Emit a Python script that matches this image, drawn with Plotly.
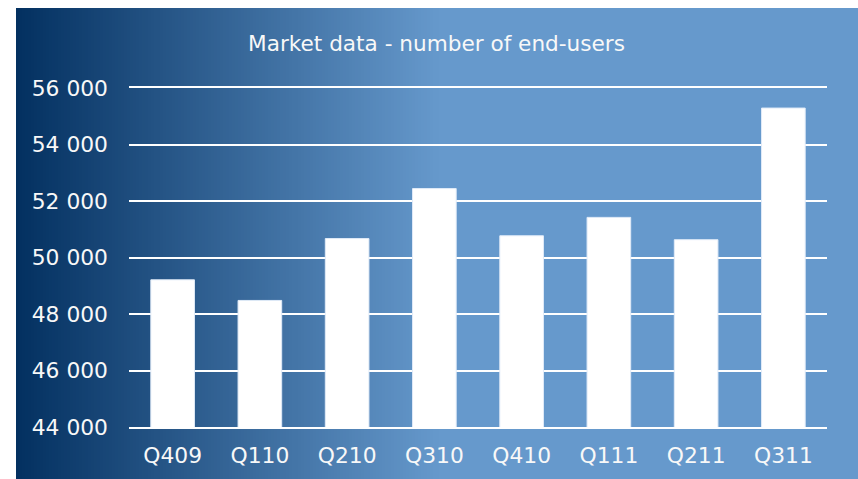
import plotly.graph_objects as go

categories = ["Q409", "Q110", "Q210", "Q310", "Q410", "Q111", "Q211", "Q311"]
end_users = [49210, 48480, 50670, 52440, 50770, 51420, 50630, 55290]
y_tickvals = [44000, 46000, 48000, 50000, 52000, 54000, 56000]
y_ticktext = ["44 000", "46 000", "48 000", "50 000", "52 000", "54 000", "56 000"]
title_text = "Market data - number of end-users"

W, H = 858, 479
ML, MR, MT, MB = 129, 31, 88, 52
PW, PH = W - ML - MR, H - MT - MB


def px_x(px):
    return (px - ML) / PW


def px_y(py):
    return (H - MB - py) / PH


fig = go.Figure()
fig.add_trace(go.Bar(
    x=categories, y=end_users,
    marker=dict(color="#ffffff", line=dict(color="rgba(225,235,248,1)", width=1)),
    hoverinfo="x+y",
))

# gradient background panel (dark navy -> light blue); the flat light part is the paper colour
shapes = []
c0 = (3, 48, 96)
c1 = (102, 153, 204)
x_start, x_grad_end = 16, 440
y_top, y_bot = 8, 485
step = 3
x = x_start
while x < x_grad_end:
    t = (x + step / 2 - x_start) / (x_grad_end - x_start)
    t = min(max(t, 0), 1)
    col = tuple(round(c0[i] + (c1[i] - c0[i]) * t) for i in range(3))
    shapes.append(dict(
        type="rect", xref="paper", yref="paper", layer="below",
        x0=px_x(x), x1=px_x(min(x + step + 0.6, x_grad_end + 1)),
        y0=px_y(y_bot), y1=px_y(y_top),
        fillcolor="rgb(%d,%d,%d)" % col, line=dict(width=0),
    ))
    x += step
# white strips at left and top of the page
shapes.append(dict(type="rect", xref="paper", yref="paper", layer="below",
                   x0=px_x(-5), x1=px_x(16), y0=px_y(H + 5), y1=px_y(-5),
                   fillcolor="#ffffff", line=dict(width=0)))
shapes.append(dict(type="rect", xref="paper", yref="paper", layer="below",
                   x0=px_x(-5), x1=px_x(W + 5), y0=px_y(8), y1=px_y(-5),
                   fillcolor="#ffffff", line=dict(width=0)))

fig.update_layout(
    width=W, height=H,
    margin=dict(l=ML, r=MR, t=MT, b=MB, pad=0, autoexpand=False),
    paper_bgcolor="rgb(%d,%d,%d)" % c1,
    plot_bgcolor="rgba(0,0,0,0)",
    font=dict(family="DejaVu Sans, Verdana, sans-serif", size=22, color="#f8f8f8"),
    title=dict(text=title_text, x=436.5 / W, xanchor="center",
               y=1 - 43 / H, yanchor="middle",
               font=dict(size=21.6, color="#f8f8f8")),
    showlegend=False,
    bargap=0.5,
    shapes=shapes,
    xaxis=dict(
        automargin=False,
        showgrid=False, showline=True, mirror=True, linecolor="#ffffff", linewidth=1.8,
        ticks="", ticklabelstandoff=8, tickfont=dict(size=21.8, color="#f8f8f8"),
    ),
    yaxis=dict(
        automargin=False,
        range=[44000, 56000], tickvals=y_tickvals, ticktext=y_ticktext,
        showgrid=True, gridcolor="#ffffff", gridwidth=1.8,
        zeroline=False, showline=False, ticks="",
        ticklabelstandoff=20, tickfont=dict(size=21.8, color="#f8f8f8"),
    ),
)

fig.write_html(
    "out.html",
    config={"displayModeBar": False},
    post_script="document.documentElement.style.margin='0';"
                "document.body.style.margin='0';"
                "document.body.style.overflow='hidden';",
)
